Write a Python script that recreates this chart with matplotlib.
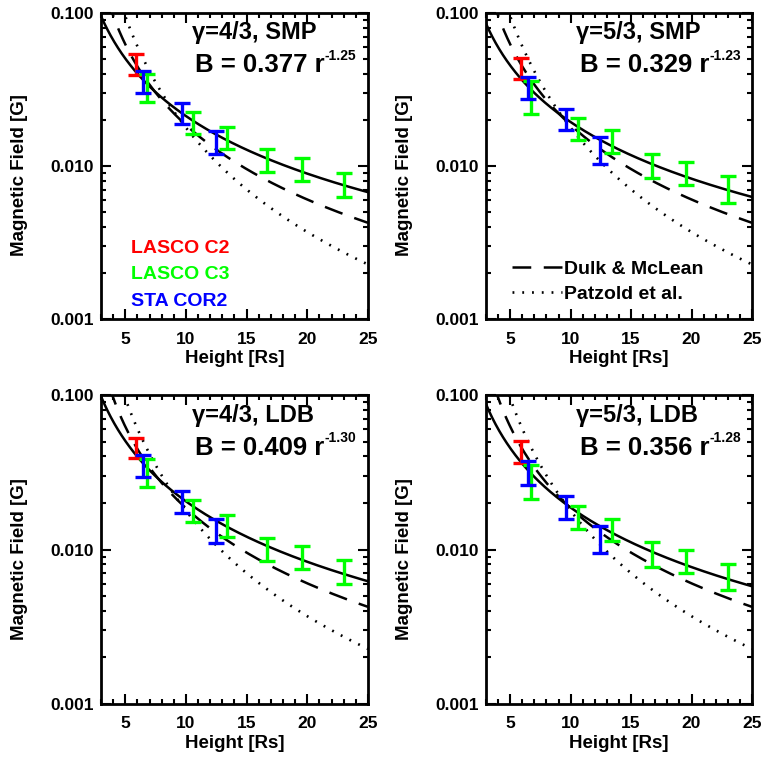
import numpy as np
import matplotlib
matplotlib.use("Agg")
import matplotlib.pyplot as plt
from matplotlib.ticker import FixedLocator, NullFormatter, LogLocator

plt.rcParams['font.family'] = ['Liberation Sans', 'DejaVu Sans']
plt.rcParams['font.weight'] = 'bold'

# ---------------- data ----------------
x_c2 = [5.9]
x_cor2 = [6.5, 9.65, 12.45]
x_c3 = [6.75, 10.6, 13.4, 16.7, 19.55, 23.0]

# panel titles / fits
panel_titles = ["γ=4/3, SMP", "γ=5/3, SMP", "γ=4/3, LDB", "γ=5/3, LDB"]
fit_coef = [0.377, 0.329, 0.409, 0.356]
fit_exp = [-1.25, -1.23, -1.30, -1.28]
fit_coef_txt = ["0.377", "0.329", "0.409", "0.356"]
fit_exp_txt = ["-1.25", "-1.23", "-1.30", "-1.28"]

# error bar ranges (low, high) per panel
c2_lo = [[0.0393], [0.0368], [0.0389], [0.0365]]
c2_hi = [[0.0537], [0.0506], [0.0530], [0.0504]]
cor2_lo = [[0.0302, 0.0187, 0.0120], [0.0273, 0.0172, 0.0103],
           [0.0293, 0.0173, 0.0110], [0.0261, 0.0158, 0.00954]]
cor2_hi = [[0.0418, 0.0257, 0.0170], [0.0380, 0.0237, 0.0154],
           [0.0409, 0.0239, 0.0157], [0.0374, 0.0221, 0.0143]]
c3_lo = [[0.0261, 0.0161, 0.0130, 0.0091, 0.00798, 0.00627],
         [0.0219, 0.0147, 0.0121, 0.0083, 0.00748, 0.00576],
         [0.0253, 0.0150, 0.0121, 0.00847, 0.00748, 0.00601],
         [0.0211, 0.0135, 0.0114, 0.00774, 0.00701, 0.00547]]
c3_hi = [[0.0399, 0.0224, 0.0181, 0.0129, 0.0112, 0.0090],
         [0.0361, 0.0207, 0.0171, 0.0119, 0.0106, 0.00855],
         [0.0387, 0.0208, 0.0167, 0.0119, 0.0106, 0.00851],
         [0.0352, 0.0191, 0.0158, 0.0111, 0.00998, 0.00805]]

x_ticks = [5, 10, 15, 20, 25]
y_ticks = [0.001, 0.01, 0.1]
y_ticklabels = ["0.001", "0.010", "0.100"]

# model parameters
dulk_a, dulk_b = 0.5, -1.5        # B = 0.5 (r-1)^-1.5
patz_a, patz_b = 6.0, 1.18        # B = 6 r^-3 + 1.18 r^-2

# ---------------- figure ----------------
W, H = 764, 757
fig = plt.figure(figsize=(W / 100, H / 100), dpi=100)

def px_axes(x0, x1, y0, y1):
    return fig.add_axes([x0 / W, 1 - y1 / H, (x1 - x0) / W, (y1 - y0) / H])

boxes = [(101, 368, 13, 319), (486, 752, 13, 319),
         (101, 368, 395, 704), (486, 752, 395, 704)]

r = np.linspace(3, 25, 500)
RED, GREEN, BLUE = '#ff0000', '#00ff00', '#0000ff'

def ebar(ax, x, lo, hi, color):
    lo = np.array(lo); hi = np.array(hi)
    c = np.sqrt(lo * hi)
    ax.errorbar(x, c, yerr=[c - lo, hi - c], fmt='none', ecolor=color,
                elinewidth=2.4, capsize=5.8, capthick=2.4, zorder=3)

for i, (x0, x1, y0, y1) in enumerate(boxes):
    ax = px_axes(x0, x1, y0, y1)
    ax.set_yscale('log')
    ax.set_xlim(3, 25)
    ax.set_ylim(0.001, 0.1)

    fit_line, = ax.plot(r, fit_coef[i] * r ** fit_exp[i], color='k', lw=1.8)
    dulk_line, = ax.plot(r, dulk_a * (r - 1) ** dulk_b, color='k', lw=1.8,
                         dashes=(7.5, 5))
    patz_line, = ax.plot(r, patz_a / r ** 3 + patz_b / r ** 2, color='k',
                         lw=1.9, dashes=(0.7, 3.0))

    ebar(ax, x_c2, c2_lo[i], c2_hi[i], RED)
    ebar(ax, x_c3, c3_lo[i], c3_hi[i], GREEN)
    ebar(ax, x_cor2, cor2_lo[i], cor2_hi[i], BLUE)

    # ticks
    ax.xaxis.set_major_locator(FixedLocator(x_ticks))
    ax.xaxis.set_minor_locator(FixedLocator(np.arange(3, 26, 1)))
    ax.yaxis.set_major_locator(FixedLocator(y_ticks))
    ax.yaxis.set_minor_locator(LogLocator(base=10, subs=np.arange(2, 10)))
    ax.yaxis.set_minor_formatter(NullFormatter())
    ax.set_yticklabels(y_ticklabels)
    ax.tick_params(which='both', direction='in', top=True, right=True,
                   width=1.5, labelsize=12.5)
    ax.tick_params(which='major', length=7)
    ax.tick_params(which='minor', length=3.5)
    ax.tick_params(axis='x', which='major', pad=9)
    ax.tick_params(axis='y', which='major', pad=5)
    for lab in ax.get_xticklabels() + ax.get_yticklabels():
        lab.set_fontweight('bold')
    for s in ax.spines.values():
        s.set_linewidth(2.0)

    ax.set_xlabel("Height [Rs]", fontsize=13.5, fontweight='bold')
    ax.xaxis.set_label_coords(0.5, -31 / (y1 - y0))
    ax.set_ylabel("Magnetic Field [G]", fontsize=13.5, fontweight='bold')
    ax.yaxis.set_label_coords(-73 / (x1 - x0), 0.47)

    # annotation texts
    ax.text(0.34, 0.935, panel_titles[i], transform=ax.transAxes,
            fontsize=17, fontweight='bold', va='center', ha='left')
    t = ax.text(0.352, 0.83, "B = " + fit_coef_txt[i] + " r",
                transform=ax.transAxes, fontsize=18.5, fontweight='bold',
                va='center', ha='left')
    ax.annotate(fit_exp_txt[i], xy=(1.0, 0.6), xycoords=t, fontsize=10,
                fontweight='bold', va='bottom', ha='left')

    if i == 0:
        ax.text(0.112, 0.232, "LASCO C2", color=RED, transform=ax.transAxes,
                fontsize=14, fontweight='bold', va='center')
        ax.text(0.112, 0.144, "LASCO C3", color=GREEN, transform=ax.transAxes,
                fontsize=14, fontweight='bold', va='center')
        ax.text(0.112, 0.056, "STA COR2", color=BLUE, transform=ax.transAxes,
                fontsize=14, fontweight='bold', va='center')
    if i == 1:
        leg = ax.legend([dulk_line, patz_line], ["Dulk & McLean", "Patzold et al."],
                        loc='lower left', bbox_to_anchor=(0.06, 0.022),
                        frameon=False, handlelength=2.6, handletextpad=0.1,
                        labelspacing=0.35, borderpad=0,
                        prop={'size': 14, 'weight': 'bold'})

fig.savefig("out.png", dpi=100)
